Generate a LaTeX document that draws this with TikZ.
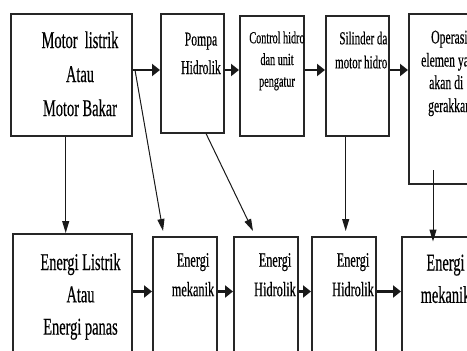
\documentclass[tikz,border=0pt]{standalone}
\usepackage{fontspec}
\setmainfont{Liberation Serif}
\newfontfamily\narrowserif[FakeStretch=0.6,FakeBold=0.4]{Liberation Serif}
\usetikzlibrary{arrows.meta}
\newcommand\fsz[2]{\narrowserif\fontsize{#1}{#2}\selectfont}
\tikzset{
  box/.style={draw=black!85, line width=1.5pt, inner sep=0pt, anchor=north west},
  % multi-line labels are placed by the baseline of their last line
  lbl/.style={inner sep=0pt, anchor=base, align=center, text=black},
  lblw/.style={inner sep=0pt, anchor=base west, text=black},
  flow/.style={line width=2.3pt, draw=black!90, -{Triangle[length=8pt,width=12pt]}},
  drop/.style={line width=1pt, draw=black!90, -{Triangle[length=12pt,width=7pt]}},
}
\begin{document}
\begin{tikzpicture}[x=1pt,y=-1pt]
\useasboundingbox (0,0) rectangle (467,351);
\clip (0,0) rectangle (467,351);

% upper row of blocks
\node[box, minimum width=121pt, minimum height=122pt] (b1) at (10,13) {};
\node[box, minimum width=63pt,  minimum height=119pt] (b2) at (160,13) {};
\node[box, minimum width=64pt,  minimum height=120pt] (b3) at (239,15) {};
\node[box, minimum width=63pt,  minimum height=120pt] (b4) at (325,15) {};
\node[box, minimum width=80pt,  minimum height=170pt] (b5) at (408,13) {};

% lower row of blocks
\node[box, minimum width=119pt, minimum height=130pt] (b6)  at (12,233) {};
\node[box, minimum width=64pt,  minimum height=130pt] (b7)  at (152,236) {};
\node[box, minimum width=64pt,  minimum height=130pt] (b8)  at (233,236) {};
\node[box, minimum width=64pt,  minimum height=130pt] (b9)  at (311,236) {};
\node[box, minimum width=80pt,  minimum height=130pt] (b10) at (401,236) {};

% texts of the upper row
\node[lbl, font=\fsz{24}{34}] (t1) at (80,116) {Motor\ \ listrik\\Atau\\Motor Bakar};
\node[lbl, font=\fsz{19.5}{28.5}] (t2) at (201,74) {Pompa\\Hidrolik};
\node[lbl, font=\fsz{17}{21.7}] (t3) at (277,86.7) {Control hidro\\dan unit\\pengatur};
\node[lbl, anchor=base east, align=right, font=\fsz{18.3}{24}] (t4) at (387.5,68.3) {Silinder da\\motor hidro};
\node[lblw, font=\fsz{19.5}{23}] (t5a) at (431,43.5) {Operasi};
\node[lblw, font=\fsz{19.5}{23}] (t5b) at (421,66.5) {elemen ya};
\node[lblw, font=\fsz{19.5}{23}] (t5c) at (429,89) {akan di};
\node[lblw, font=\fsz{19.5}{23}] (t5d) at (428,112) {gerakkan};

% texts of the lower row
\node[lbl, font=\fsz{24}{32.3}] (t6) at (80.5,334.6) {Energi Listrik\\Atau\\Energi panas};
\node[lbl, font=\fsz{20.5}{29.5}] (t7) at (193,296.2) {Energi\\mekanik};
\node[lbl, font=\fsz{20.5}{29.5}] (t8) at (275,296.2) {Energi\\Hidrolik};
\node[lbl, font=\fsz{20.5}{29.5}] (t9) at (353,296.2) {Energi\\Hidrolik};
\node[lbl, font=\fsz{24}{32.3}] (t10) at (445.5,302.8) {Energi\\mekanik};

% levels of the horizontal chains
\coordinate (ya) at (0,70);
\coordinate (yb) at (0,291.5);

\draw[flow] (b1.east |- ya) -- (b2.west |- ya);
\draw[flow] (b2.east |- ya) -- (b3.west |- ya);
\draw[flow] (b3.east |- ya) -- (b4.west |- ya);
\draw[flow] (b4.east |- ya) -- (b5.west |- ya);

\draw[flow] (b6.east |- yb) -- (b7.west |- yb);
\draw[flow] (b7.east |- yb) -- (b8.west |- yb);
\draw[flow] (b8.east |- yb) -- (b9.west |- yb);
\draw[flow] (b9.east |- yb) -- (b10.west |- yb);

% links from the upper row down to the energy forms
\coordinate (x1) at (65.7,0);
\coordinate (s2) at (135,70);
\coordinate (e2) at (163,231);
\coordinate (x3) at (206,0);
\coordinate (e3) at (253,231);
\coordinate (e4) at (345.7,231);
\coordinate (s5) at (433,170);
\coordinate (e5) at (433,241.5);

\draw[drop] (b1.south -| x1) -- (b6.north -| x1);
\draw[drop] (s2) -- (e2);
\draw[drop] (b2.south -| x3) -- (e3);
\draw[drop] (b4.south -| e4) -- (e4);
\draw[drop] (s5) -- (e5);
\end{tikzpicture}
\end{document}
